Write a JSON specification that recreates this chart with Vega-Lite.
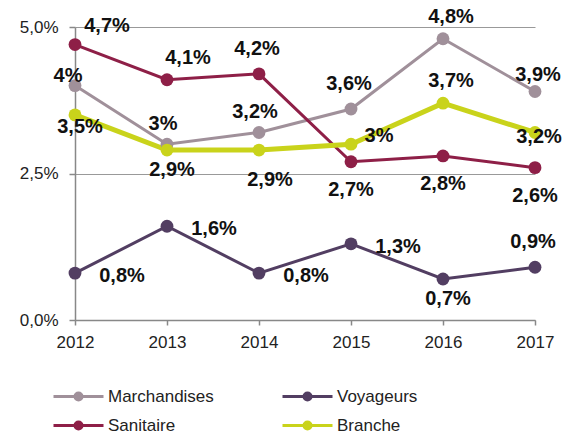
{
  "$schema": "https://vega.github.io/schema/vega-lite/v6.json",
  "autosize": "none",
  "width": 460,
  "height": 293,
  "padding": {"left": 75, "top": 27, "right": 29, "bottom": 116},
  "background": "white",
  "config": {
    "locale": {"number": {"decimal": ",", "thousands": "\u00a0", "grouping": [3], "currency": ["", "\u00a0€"], "percent": "%"}},
    "view": {"stroke": null},
    "font": "Liberation Sans"
  },
  "data": {"values": [
    {"serie": "Marchandises", "annee": 2012, "valeur": 0.040},
    {"serie": "Marchandises", "annee": 2013, "valeur": 0.030},
    {"serie": "Marchandises", "annee": 2014, "valeur": 0.032},
    {"serie": "Marchandises", "annee": 2015, "valeur": 0.036},
    {"serie": "Marchandises", "annee": 2016, "valeur": 0.048},
    {"serie": "Marchandises", "annee": 2017, "valeur": 0.039},
    {"serie": "Voyageurs", "annee": 2012, "valeur": 0.008},
    {"serie": "Voyageurs", "annee": 2013, "valeur": 0.016},
    {"serie": "Voyageurs", "annee": 2014, "valeur": 0.008},
    {"serie": "Voyageurs", "annee": 2015, "valeur": 0.013},
    {"serie": "Voyageurs", "annee": 2016, "valeur": 0.007},
    {"serie": "Voyageurs", "annee": 2017, "valeur": 0.009},
    {"serie": "Sanitaire", "annee": 2012, "valeur": 0.047},
    {"serie": "Sanitaire", "annee": 2013, "valeur": 0.041},
    {"serie": "Sanitaire", "annee": 2014, "valeur": 0.042},
    {"serie": "Sanitaire", "annee": 2015, "valeur": 0.027},
    {"serie": "Sanitaire", "annee": 2016, "valeur": 0.028},
    {"serie": "Sanitaire", "annee": 2017, "valeur": 0.026},
    {"serie": "Branche", "annee": 2012, "valeur": 0.035},
    {"serie": "Branche", "annee": 2013, "valeur": 0.029},
    {"serie": "Branche", "annee": 2014, "valeur": 0.029},
    {"serie": "Branche", "annee": 2015, "valeur": 0.030},
    {"serie": "Branche", "annee": 2016, "valeur": 0.037},
    {"serie": "Branche", "annee": 2017, "valeur": 0.032}
  ]},
  "encoding": {
    "x": {"field": "annee", "type": "ordinal", "scale": {"type": "point", "padding": 0},
      "axis": {"title": null, "labelAngle": 0, "labelFontSize": 17, "labelColor": "#222", "labelPadding": 9,
        "tickSize": 5, "tickColor": "#888", "tickWidth": 1.5, "domainColor": "#888", "domainWidth": 1.5, "grid": false}},
    "y": {"field": "valeur", "type": "quantitative", "scale": {"domain": [0, 0.05], "nice": false},
      "axis": {"title": null, "values": [0, 0.025, 0.05], "format": ".1%", "labelFontSize": 17, "labelColor": "#222", "labelPadding": 11,
        "tickSize": 6, "tickColor": "#888", "tickWidth": 1.5, "domainColor": "#888", "domainWidth": 1.5,
        "grid": true, "gridColor": "#999", "gridWidth": 1.2}}
  },
  "layer": [
    {
      "mark": {"type": "line"},
      "encoding": {
        "color": {"field": "serie", "type": "nominal",
          "scale": {"domain": ["Marchandises", "Sanitaire", "Voyageurs", "Branche"], "range": ["#a0909a", "#8e1f47", "#523e62", "#c9d31b"]},
          "legend": {"orient": "none", "legendX": -23, "legendY": 358, "columns": 2, "title": null,
            "symbolType": "M-1,0L4,0M1.15,0A0.35,0.35,0,1,0,1.85,0A0.35,0.35,0,1,0,1.15,0Z",
            "symbolSize": 400, "symbolStrokeWidth": 3, "labelFontSize": 17, "labelColor": "#222", "labelOffset": 33,
            "columnPadding": 62, "rowPadding": 8,
            "encode": {"symbols": {"update": {"fill": {"scale": "color", "field": "value"}, "fillOpacity": {"value": 1}, "stroke": {"scale": "color", "field": "value"}}}}}},
        "strokeWidth": {"condition": {"test": "datum.serie === 'Branche'", "value": 5}, "value": 3}
      }
    },
    {
      "mark": {"type": "point", "filled": true, "size": 165, "opacity": 1},
      "encoding": {"color": {"field": "serie", "type": "nominal", "legend": null}}
    },
    {
      "transform": [{"filter": "indexof(['Marchandises|2013','Marchandises|2014'], datum.serie + '|' + datum.annee) >= 0"}],
      "mark": {"type": "text", "dx": -4, "dy": -20, "fontSize": 20, "fontWeight": "bold", "color": "#111"},
      "encoding": {"text": {"field": "valeur", "type": "quantitative", "format": "~%"}}
    },
    {
      "transform": [{"filter": "indexof(['Marchandises|2015','Sanitaire|2014','Voyageurs|2017'], datum.serie + '|' + datum.annee) >= 0"}],
      "mark": {"type": "text", "dx": -2, "dy": -25, "fontSize": 20, "fontWeight": "bold", "color": "#111"},
      "encoding": {"text": {"field": "valeur", "type": "quantitative", "format": "~%"}}
    },
    {
      "transform": [{"filter": "indexof(['Marchandises|2016','Branche|2016'], datum.serie + '|' + datum.annee) >= 0"}],
      "mark": {"type": "text", "dx": 8, "dy": -22, "fontSize": 20, "fontWeight": "bold", "color": "#111"},
      "encoding": {"text": {"field": "valeur", "type": "quantitative", "format": "~%"}}
    },
    {
      "transform": [{"filter": "datum.serie === 'Marchandises' && datum.annee === 2017"}],
      "mark": {"type": "text", "dx": 3, "dy": -16, "fontSize": 20, "fontWeight": "bold", "color": "#111"},
      "encoding": {"text": {"field": "valeur", "type": "quantitative", "format": "~%"}}
    },
    {
      "transform": [{"filter": "datum.serie === 'Marchandises' && datum.annee === 2012"}],
      "mark": {"type": "text", "dx": -7, "dy": -10, "fontSize": 20, "fontWeight": "bold", "color": "#111"},
      "encoding": {"text": {"field": "valeur", "type": "quantitative", "format": "~%"}}
    },
    {
      "transform": [{"filter": "datum.serie === 'Sanitaire' && datum.annee === 2012"}],
      "mark": {"type": "text", "dx": 32, "dy": -19, "fontSize": 20, "fontWeight": "bold", "color": "#111"},
      "encoding": {"text": {"field": "valeur", "type": "quantitative", "format": "~%"}}
    },
    {
      "transform": [{"filter": "datum.serie === 'Sanitaire' && datum.annee === 2013"}],
      "mark": {"type": "text", "dx": 21, "dy": -22, "fontSize": 20, "fontWeight": "bold", "color": "#111"},
      "encoding": {"text": {"field": "valeur", "type": "quantitative", "format": "~%"}}
    },
    {
      "transform": [{"filter": "datum.serie === 'Sanitaire' && datum.annee >= 2015"}],
      "mark": {"type": "text", "dx": 0, "dy": 28, "fontSize": 20, "fontWeight": "bold", "color": "#111"},
      "encoding": {"text": {"field": "valeur", "type": "quantitative", "format": "~%"}}
    },
    {
      "transform": [{"filter": "datum.serie === 'Branche' && datum.annee === 2012"}],
      "mark": {"type": "text", "dx": 5, "dy": 12, "fontSize": 20, "fontWeight": "bold", "color": "#111"},
      "encoding": {"text": {"field": "valeur", "type": "quantitative", "format": "~%"}}
    },
    {
      "transform": [{"filter": "indexof(['Branche|2013','Voyageurs|2016'], datum.serie + '|' + datum.annee) >= 0"}],
      "mark": {"type": "text", "dx": 5, "dy": 20, "fontSize": 20, "fontWeight": "bold", "color": "#111"},
      "encoding": {"text": {"field": "valeur", "type": "quantitative", "format": "~%"}}
    },
    {
      "transform": [{"filter": "datum.serie === 'Branche' && datum.annee === 2014"}],
      "mark": {"type": "text", "dx": 11, "dy": 30, "fontSize": 20, "fontWeight": "bold", "color": "#111"},
      "encoding": {"text": {"field": "valeur", "type": "quantitative", "format": "~%"}}
    },
    {
      "transform": [{"filter": "datum.serie === 'Branche' && datum.annee === 2015"}],
      "mark": {"type": "text", "dx": 28, "dy": -8, "fontSize": 20, "fontWeight": "bold", "color": "#111"},
      "encoding": {"text": {"field": "valeur", "type": "quantitative", "format": "~%"}}
    },
    {
      "transform": [{"filter": "datum.serie === 'Branche' && datum.annee === 2017"}],
      "mark": {"type": "text", "dx": 4, "dy": 5, "fontSize": 20, "fontWeight": "bold", "color": "#111"},
      "encoding": {"text": {"field": "valeur", "type": "quantitative", "format": "~%"}}
    },
    {
      "transform": [{"filter": "datum.serie === 'Voyageurs' && datum.annee <= 2015"}],
      "mark": {"type": "text", "dx": 47, "dy": 3, "fontSize": 20, "fontWeight": "bold", "color": "#111"},
      "encoding": {"text": {"field": "valeur", "type": "quantitative", "format": "~%"}}
    }
  ]
}
